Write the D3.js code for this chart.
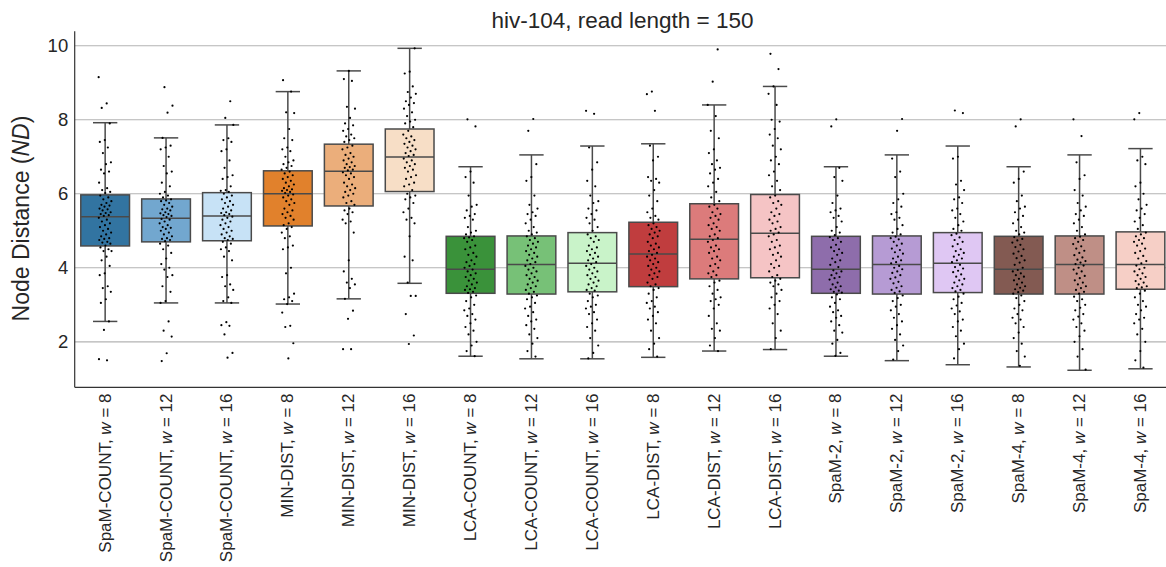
<!DOCTYPE html>
<html>
<head>
<meta charset="utf-8">
<title>hiv-104</title>
<script src="https://cdn.jsdelivr.net/npm/d3@7"></script>
<style>
  body{margin:0;background:#fff;}
  text{font-family:"Liberation Sans",Arial,sans-serif;fill:#262626;}
</style>
</head>
<body>
<script>
// ---- data ----
let methods=['SpaM-COUNT','SpaM-COUNT','SpaM-COUNT','MIN-DIST','MIN-DIST','MIN-DIST',
  'LCA-COUNT','LCA-COUNT','LCA-COUNT','LCA-DIST','LCA-DIST','LCA-DIST',
  'SpaM-2','SpaM-2','SpaM-2','SpaM-4','SpaM-4','SpaM-4'];
let wValues=[8,12,16,8,12,16,8,12,16,8,12,16,8,12,16,8,12,16];
let colors=['#3274a1','#72a7cf','#c7e2f6','#e1812c','#ebae7b','#f7dec6',
  '#3a923a','#77c177','#c9f3c9','#c03d3e','#dc7b7b','#f5c4c5',
  '#8e6dab','#b69bd4','#dfc7f3','#835a52','#bf8f86','#f6cfc6'];

let whiskLo=[2.55,3.05,3.05,3.02,3.16,3.58,1.61,1.54,1.54,1.58,1.75,1.79,1.61,1.49,1.38,1.32,1.23,1.27];
let q1=     [4.59,4.70,4.73,5.13,5.67,6.06,3.31,3.29,3.35,3.49,3.70,3.73,3.31,3.29,3.33,3.29,3.29,3.42];
let median= [5.38,5.34,5.40,6.00,6.61,6.99,3.96,4.09,4.12,4.37,4.77,4.93,3.96,4.09,4.12,3.96,4.09,4.09];
let q3=     [5.97,5.86,6.03,6.62,7.34,7.75,4.85,4.86,4.95,5.23,5.73,5.98,4.85,4.86,4.95,4.85,4.86,4.97];
let whiskHi=[7.92,7.51,7.86,8.76,9.32,9.93,6.73,7.05,7.29,7.35,8.40,8.90,6.73,7.05,7.29,6.73,7.05,7.22];

let points=[
  '9.15 8.44 8.32 7.9 7.45 7.4 7.25 7.1 6.85 6.8 6.65 6.6 6.55 6.3 6.15 6.1 6.05 6.02 5.95 5.9 5.85 5.8 5.75 5.7 5.68 5.65 5.6 5.58 5.55 5.5 5.48 5.45 5.42 5.4 5.35 5.3 5.25 5.2 5.15 5.1 5.05 5.0 4.95 4.9 4.85 4.8 4.78 4.75 4.7 4.68 4.65 4.6 4.55 4.5 4.45 4.45 4.3 4.2 4.05 3.85 3.8 3.5 3.45 3.35 3.15 3.05 2.55 2.32 1.53 1.5',
  '8.88 8.38 8.19 7.51 7.3 7.25 7.2 7.0 6.75 6.6 6.55 6.3 6.2 6.05 6.0 5.95 5.9 5.85 5.82 5.8 5.75 5.7 5.65 5.6 5.58 5.55 5.5 5.47 5.45 5.42 5.4 5.37 5.32 5.3 5.25 5.2 5.15 5.1 5.08 5.05 5.0 4.95 4.9 4.85 4.8 4.78 4.75 4.72 4.65 4.6 4.5 4.4 4.25 4.1 4.0 3.95 3.8 3.75 3.5 3.35 3.1 3.05 2.55 2.3 2.14 1.69 1.48',
  '8.5 8.05 7.86 7.5 7.45 7.4 7.2 7.15 6.9 6.7 6.5 6.45 6.4 6.2 6.1 6.08 6.05 6.0 5.95 5.9 5.85 5.8 5.75 5.7 5.65 5.6 5.55 5.5 5.48 5.45 5.42 5.38 5.35 5.3 5.25 5.2 5.15 5.1 5.05 5.0 4.95 4.9 4.85 4.8 4.78 4.75 4.7 4.65 4.55 4.5 4.45 4.3 4.2 3.8 3.75 3.55 3.5 3.4 3.2 3.1 3.05 2.53 2.45 2.43 2.2 1.7 1.57',
  '9.07 8.76 8.2 8.18 7.75 7.5 7.45 7.25 7.2 7.15 7.0 6.9 6.85 6.8 6.75 6.7 6.65 6.6 6.55 6.5 6.45 6.4 6.35 6.3 6.25 6.2 6.15 6.12 6.1 6.08 6.05 6.02 5.98 5.95 5.9 5.85 5.8 5.75 5.7 5.6 5.55 5.5 5.45 5.4 5.35 5.3 5.2 5.15 5.1 5.05 4.95 4.85 4.8 4.6 4.55 4.5 4.0 3.85 3.3 3.2 3.15 3.1 3.02 2.79 2.43 2.4 1.96 1.55',
  '9.32 9.1 9.05 8.35 8.3 8.05 7.9 7.85 7.75 7.7 7.6 7.55 7.5 7.45 7.4 7.3 7.25 7.2 7.1 7.05 7.0 6.95 6.9 6.85 6.8 6.75 6.72 6.7 6.65 6.63 6.58 6.55 6.5 6.45 6.4 6.3 6.25 6.2 6.15 6.1 6.05 6.0 5.95 5.9 5.8 5.75 5.7 5.6 5.55 5.5 5.45 5.3 5.25 5.2 4.95 4.2 3.9 3.7 3.6 3.55 3.45 3.16 2.84 2.62 1.8 1.8',
  '9.93 9.3 9.25 8.9 8.75 8.7 8.6 8.5 8.45 8.4 8.3 8.2 8.1 8.0 7.95 7.9 7.8 7.7 7.6 7.55 7.5 7.45 7.4 7.35 7.3 7.25 7.2 7.15 7.1 7.05 7.02 6.95 6.9 6.85 6.8 6.75 6.7 6.65 6.6 6.5 6.45 6.4 6.3 6.25 6.2 6.1 6.0 5.95 5.9 5.85 5.75 5.6 5.5 5.35 5.3 5.2 4.85 4.3 4.2 3.6 3.24 3.24 2.75 2.17 1.94',
  '8.01 7.82 6.6 6.45 6.3 5.95 5.7 5.65 5.55 5.45 5.4 5.35 5.3 5.1 5.0 4.95 4.9 4.85 4.82 4.8 4.75 4.7 4.6 4.55 4.5 4.4 4.35 4.3 4.2 4.15 4.1 4.05 4.0 3.95 3.9 3.85 3.8 3.75 3.7 3.65 3.6 3.55 3.5 3.45 3.42 3.4 3.35 3.32 3.25 3.2 3.1 3.0 2.9 2.85 2.75 2.7 2.6 2.5 2.4 2.3 2.2 2.0 1.9 1.75 1.61',
  '8.02 7.7 6.8 6.45 6.35 5.95 5.7 5.6 5.5 5.45 5.4 5.3 5.2 5.1 5.0 4.95 4.9 4.85 4.8 4.75 4.7 4.65 4.6 4.55 4.5 4.45 4.4 4.35 4.3 4.25 4.2 4.15 4.1 4.05 4.0 3.95 3.9 3.85 3.8 3.75 3.7 3.65 3.6 3.55 3.5 3.45 3.4 3.35 3.3 3.25 3.2 3.15 3.05 2.95 2.9 2.8 2.7 2.6 2.55 2.45 2.35 2.2 2.1 1.95 1.75 1.6',
  '8.24 8.16 7.25 6.85 6.65 6.35 6.2 5.95 5.8 5.75 5.6 5.55 5.45 5.35 5.3 5.2 5.1 5.0 4.9 4.85 4.8 4.75 4.7 4.6 4.55 4.5 4.45 4.4 4.35 4.3 4.25 4.2 4.15 4.1 4.05 4.0 3.95 3.9 3.85 3.8 3.75 3.7 3.65 3.6 3.55 3.5 3.45 3.4 3.38 3.3 3.25 3.2 3.1 3.0 2.95 2.9 2.8 2.75 2.6 2.5 2.4 2.3 2.1 1.9 1.7 1.55',
  '8.76 8.69 8.24 7.3 7.0 6.9 6.45 6.4 6.35 6.3 6.1 5.95 5.8 5.6 5.5 5.4 5.35 5.3 5.2 5.15 5.1 5.05 5.0 4.95 4.9 4.85 4.8 4.7 4.65 4.6 4.55 4.5 4.45 4.4 4.35 4.3 4.25 4.2 4.15 4.1 4.05 4.0 3.95 3.9 3.85 3.8 3.75 3.7 3.6 3.55 3.5 3.45 3.4 3.3 3.2 3.1 3.05 2.95 2.9 2.8 2.7 2.6 2.5 2.3 2.1 1.95 1.8 1.6',
  '9.9 9.03 8.4 8.1 7.7 7.5 7.2 7.1 6.9 6.8 6.7 6.65 6.55 6.4 6.3 6.2 6.05 5.9 5.8 5.7 5.65 5.6 5.5 5.45 5.4 5.35 5.3 5.2 5.15 5.1 5.05 5.0 4.9 4.85 4.8 4.75 4.7 4.6 4.55 4.5 4.45 4.4 4.3 4.25 4.2 4.1 4.05 4.0 3.9 3.85 3.8 3.75 3.65 3.6 3.5 3.4 3.3 3.2 3.15 3.1 3.0 2.9 2.7 2.5 2.35 2.3 2.1 1.9 1.75',
  '9.78 9.37 8.9 8.7 8.4 8.0 7.95 7.75 7.6 7.5 7.3 7.2 7.0 6.9 6.8 6.6 6.5 6.35 6.2 6.1 5.95 5.9 5.8 5.75 5.7 5.6 5.5 5.45 5.4 5.3 5.25 5.2 5.1 5.05 5.0 4.95 4.9 4.85 4.75 4.7 4.6 4.55 4.5 4.4 4.35 4.3 4.2 4.1 4.05 4.0 3.9 3.8 3.75 3.7 3.65 3.6 3.55 3.5 3.4 3.3 3.2 3.1 3.0 2.9 2.75 2.5 2.3 2.1 1.8',
  '8.01 7.82 6.7 6.45 6.35 5.95 5.75 5.6 5.55 5.5 5.4 5.35 5.25 5.1 5.0 4.95 4.88 4.83 4.8 4.75 4.7 4.62 4.55 4.5 4.45 4.4 4.35 4.25 4.2 4.15 4.08 4.02 3.93 3.9 3.85 3.8 3.75 3.72 3.68 3.6 3.55 3.5 3.47 3.42 3.38 3.35 3.33 3.28 3.2 3.15 3.05 2.95 2.85 2.8 2.7 2.65 2.55 2.45 2.3 2.25 2.05 1.95 1.7 1.62',
  '8.02 7.7 6.95 6.6 6.45 6.0 5.85 5.75 5.65 5.5 5.45 5.35 5.3 5.15 5.05 4.95 4.9 4.84 4.8 4.77 4.7 4.65 4.6 4.52 4.48 4.42 4.38 4.3 4.25 4.2 4.15 4.12 4.05 4.0 3.96 3.9 3.86 3.8 3.74 3.7 3.62 3.58 3.5 3.46 3.4 3.36 3.32 3.25 3.18 3.1 3.0 2.95 2.85 2.75 2.65 2.55 2.45 2.35 2.2 2.05 1.9 1.75 1.52',
  '8.25 8.18 7.0 6.95 6.35 6.25 6.1 5.9 5.85 5.75 5.6 5.55 5.45 5.35 5.25 5.15 5.05 5.0 4.92 4.88 4.82 4.75 4.7 4.64 4.58 4.5 4.45 4.4 4.35 4.3 4.25 4.2 4.15 4.08 4.02 3.98 3.92 3.88 3.82 3.76 3.7 3.66 3.6 3.55 3.5 3.45 3.4 3.36 3.3 3.22 3.15 3.05 2.98 2.9 2.82 2.75 2.6 2.55 2.4 2.3 2.15 1.95 1.8 1.55',
  '8.01 7.82 6.6 6.4 6.3 5.95 5.8 5.65 5.6 5.5 5.4 5.3 5.2 5.1 5.0 4.95 4.9 4.83 4.78 4.74 4.68 4.62 4.56 4.5 4.44 4.38 4.32 4.26 4.2 4.14 4.08 4.0 3.94 3.9 3.85 3.8 3.76 3.7 3.66 3.6 3.55 3.5 3.46 3.42 3.38 3.34 3.3 3.25 3.18 3.1 3.0 2.9 2.85 2.75 2.65 2.6 2.5 2.4 2.25 2.1 1.95 1.75 1.6 1.35',
  '8.01 7.56 6.85 6.5 6.4 6.1 5.95 5.75 5.65 5.55 5.45 5.4 5.3 5.2 5.1 5.0 4.9 4.84 4.8 4.75 4.7 4.64 4.58 4.52 4.46 4.4 4.34 4.28 4.22 4.18 4.14 4.1 4.06 4.0 3.95 3.9 3.84 3.78 3.72 3.66 3.6 3.55 3.5 3.45 3.4 3.35 3.3 3.22 3.15 3.1 3.0 2.92 2.85 2.75 2.68 2.6 2.5 2.4 2.3 2.15 2.0 1.8 1.6 1.25',
  '8.18 8.01 7.0 6.9 6.8 6.3 6.2 6.0 5.85 5.7 5.6 5.55 5.45 5.35 5.25 5.15 5.05 4.95 4.9 4.85 4.8 4.75 4.7 4.65 4.6 4.52 4.45 4.4 4.32 4.25 4.18 4.12 4.06 4.0 3.96 3.9 3.85 3.8 3.75 3.7 3.64 3.6 3.55 3.5 3.47 3.45 3.38 3.3 3.2 3.1 3.0 2.95 2.85 2.75 2.65 2.6 2.5 2.35 2.2 2.0 1.75 1.5 1.3'
].map(s=>s.split(' ').map(Number));

let yTicks=[2,4,6,8,10];

// ---- drawing ----
let W=1166, H=567;
let svg=d3.select('body').append('svg').attr('width', W).attr('height', H);

let x=d3.scaleBand().domain(d3.range(methods.length)).range([74.7, 1170.9]).padding(0);
let y=d3.scaleLinear().domain([0.77, 10.39]).range([387.3, 31.3]);
let boxW=x.bandwidth()*0.8;

//网格
svg.append('g').selectAll('line').data(yTicks).enter().append('line')
  .attr('x1', 74.7).attr('x2', W)
  .attr('y1', d=>y(d)).attr('y2', d=>y(d))
  .attr('stroke', '#b3b3b3').attr('stroke-width', 1.2);

let yAxis=svg.append('g').attr('transform', 'translate(74.7,0)')
  .call(d3.axisLeft(y).tickValues(yTicks).tickSize(0).tickPadding(6.5));
yAxis.select('.domain').remove();
yAxis.selectAll('text').attr('font-size', 18.5).attr('fill', '#262626')
  .style('font-family', '"Liberation Sans",Arial,sans-serif');

//箱子
let lineCol='#4a4a4a';
let g=svg.append('g');
methods.forEach((m, i)=>{
  let cx=x(i)+x.bandwidth()/2;
  let bg=g.append('g');
  bg.append('line').attr('x1', cx).attr('x2', cx).attr('y1', y(whiskHi[i])).attr('y2', y(q3[i]))
    .attr('stroke', lineCol).attr('stroke-width', 1.5);
  bg.append('line').attr('x1', cx).attr('x2', cx).attr('y1', y(q1[i])).attr('y2', y(whiskLo[i]))
    .attr('stroke', lineCol).attr('stroke-width', 1.5);
  [whiskHi[i], whiskLo[i]].forEach(v=>{
    bg.append('line').attr('x1', cx-boxW/4).attr('x2', cx+boxW/4).attr('y1', y(v)).attr('y2', y(v))
      .attr('stroke', lineCol).attr('stroke-width', 1.5);
  });
  bg.append('rect').attr('x', cx-boxW/2).attr('width', boxW)
    .attr('y', y(q3[i])).attr('height', y(q1[i])-y(q3[i]))
    .attr('fill', colors[i]).attr('stroke', lineCol).attr('stroke-width', 1.5);
  bg.append('line').attr('x1', cx-boxW/2).attr('x2', cx+boxW/2).attr('y1', y(median[i])).attr('y2', y(median[i]))
    .attr('stroke', lineCol).attr('stroke-width', 1.5);

  //散点 (抖动)
  bg.selectAll('circle').data(points[i]).enter().append('circle')
    .attr('cx', (d, k)=>cx+(((k*0.6180339+i*0.377)%1)-0.5)*13)
    .attr('cy', d=>y(d))
    .attr('r', 1.1)
    .attr('fill', '#000');
});

//x轴标签
let xl=svg.append('g');
methods.forEach((m, i)=>{
  let cx=x(i)+x.bandwidth()/2;
  let t=xl.append('text')
    .attr('transform', `translate(${cx+5.5},393.5) rotate(-90)`)
    .attr('text-anchor', 'end')
    .attr('font-size', 17)
    .attr('xml:space', 'preserve');
  t.append('tspan').text(m+', ');
  t.append('tspan').attr('font-style', 'italic').text('w');
  t.append('tspan').text(' = '+wValues[i]);
});

//坐标轴线
svg.append('line').attr('x1', 74.7).attr('x2', 74.7).attr('y1', 31.3).attr('y2', 387.3)
  .attr('stroke', '#333').attr('stroke-width', 1.2);
svg.append('line').attr('x1', 74.7).attr('x2', W).attr('y1', 387.3).attr('y2', 387.3)
  .attr('stroke', '#333').attr('stroke-width', 1.2);

//标题
svg.append('text').attr('x', 622.5).attr('y', 28.3).attr('text-anchor', 'middle')
  .attr('font-size', 22.5).text('hiv-104, read length = 150');

let yl=svg.append('text').attr('transform', 'translate(29,218.5) rotate(-90)')
  .attr('text-anchor', 'middle').attr('font-size', 23);
yl.append('tspan').text('Node Distance (');
yl.append('tspan').attr('font-style', 'italic').text('ND');
yl.append('tspan').text(')');
</script>
</body>
</html>
